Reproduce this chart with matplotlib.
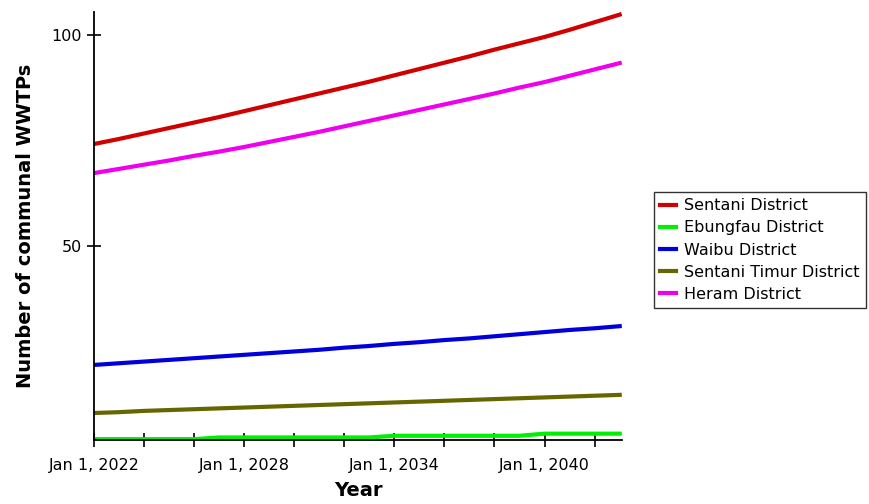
import numpy as np
import matplotlib.pyplot as plt
from matplotlib.ticker import MultipleLocator

# Data (yearly values)
years = np.arange(2022, 2044)
sentani = [74.2, 75.4, 76.7, 78.0, 79.3, 80.6, 82.0, 83.4, 84.8, 86.2, 87.6, 89.0,
           90.5, 92.0, 93.5, 95.0, 96.6, 98.1, 99.6, 101.3, 103.1, 104.9]
ebungfau = [4.2, 4.2, 4.2, 4.2, 4.2, 4.6, 4.6, 4.6, 4.6, 4.6, 4.6, 4.6,
            5.0, 5.0, 5.0, 5.0, 5.0, 5.0, 5.5, 5.5, 5.5, 5.5]
waibu = [21.8, 22.2, 22.6, 23.0, 23.4, 23.8, 24.2, 24.6, 25.0, 25.4, 25.9, 26.3,
         26.8, 27.2, 27.7, 28.1, 28.6, 29.1, 29.6, 30.1, 30.5, 31.0]
timur = [10.4, 10.6, 10.9, 11.1, 11.3, 11.5, 11.7, 11.9, 12.1, 12.3, 12.5, 12.7,
         12.9, 13.1, 13.3, 13.5, 13.7, 13.9, 14.1, 14.3, 14.5, 14.7]
heram = [67.3, 68.3, 69.3, 70.3, 71.4, 72.4, 73.5, 74.7, 75.9, 77.1, 78.4, 79.7,
         81.0, 82.3, 83.6, 84.9, 86.2, 87.6, 88.9, 90.4, 91.9, 93.4]

series = [("Sentani District", sentani, '#d00000'),
          ("Ebungfau District", ebungfau, '#00ee00'),
          ("Waibu District", waibu, '#0000dd'),
          ("Sentani Timur District", timur, '#666600'),
          ("Heram District", heram, '#ee00ee')]

fig = plt.figure(figsize=(8.69, 5.04), dpi=100)
ax = fig.add_axes([0.108, 0.127, 0.608, 0.849])

for name, vals, col in series:
    ax.plot(years, vals, color=col, lw=3, label=name)

ax.set_xlim(2022, 2043.1)
ax.set_ylim(4, 105.5)
ax.set_yticks([50, 100])
ax.xaxis.set_minor_locator(MultipleLocator(2))
ax.set_xticks([2022, 2028, 2034, 2040])
ax.set_xticklabels(["Jan 1, %d" % y for y in [2022, 2028, 2034, 2040]])
ax.tick_params(axis='both', which='both', direction='inout', length=10, width=1.2, labelsize=11.5)
ax.tick_params(axis='x', pad=8)

for s in ['top', 'right']:
    ax.spines[s].set_visible(False)
ax.spines['left'].set_linewidth(1.3)
ax.spines['bottom'].set_linewidth(1.3)

ax.set_xlabel("Year", fontsize=14, fontweight='bold', labelpad=6)
ax.set_ylabel("Number of communal WWTPs", fontsize=14, fontweight='bold', labelpad=12)

leg = ax.legend(loc='upper left', bbox_to_anchor=(1.06, 0.58), fontsize=11.5,
                frameon=True, fancybox=False, edgecolor='black', handlelength=1.0,
                handletextpad=0.5, borderaxespad=0, labelspacing=0.45, borderpad=0.4)
leg.get_frame().set_linewidth(1.0)

fig.savefig("out.png", dpi=100)
